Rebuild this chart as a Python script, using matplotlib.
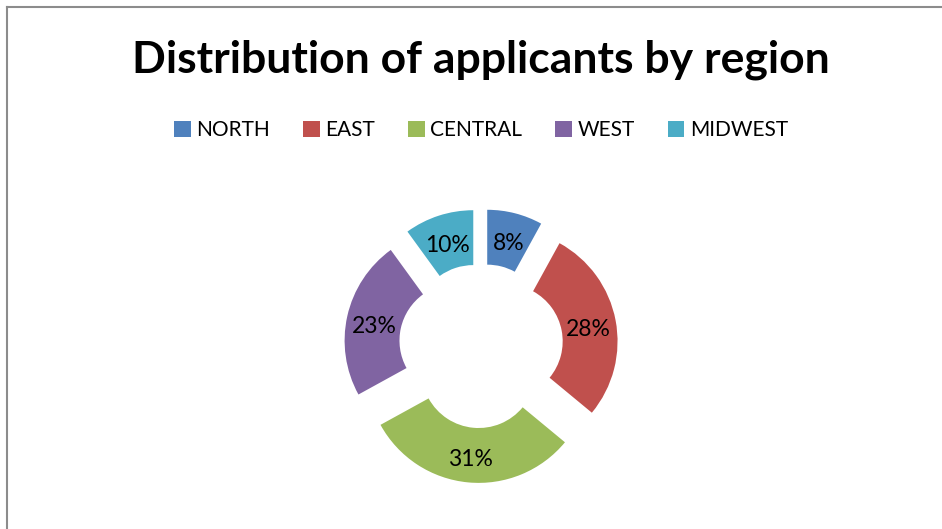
import matplotlib
matplotlib.use("Agg")
import matplotlib.pyplot as plt
from matplotlib.patches import Patch

categories = ["NORTH", "EAST", "CENTRAL", "WEST", "MIDWEST"]
values = [8, 28, 31, 23, 10]
colors = ["#4f81bd", "#c0504d", "#9bbb59", "#8064a2", "#4bacc6"]
title = "Distribution of applicants by region"

plt.rcParams['font.family'] = ['Lato', 'DejaVu Sans']

W, H = 942, 529
fig = plt.figure(figsize=(W / 100, H / 100), dpi=100)
fig.patch.set_facecolor("white")

# border lines (top and left)
fig.add_artist(plt.Line2D([7 / W, 1.0], [1 - 7 / H, 1 - 7 / H], color="#8c8c8c", lw=1.5, transform=fig.transFigure))
fig.add_artist(plt.Line2D([7 / W, 7 / W], [1 - 7 / H, 0.0], color="#8c8c8c", lw=1.5, transform=fig.transFigure))

ax = fig.add_axes([0, 0, 1, 1])

R = 112
explode = [25] * len(values)  # matplotlib applies explode in data units
wedges, texts = ax.pie(values, colors=colors, startangle=90, counterclock=False,
                       radius=R, center=(481, H - 346), explode=explode,
                       wedgeprops=dict(width=0.49 * R, edgecolor="none"),
                       labels=[f"{v}%" for v in values], labeldistance=0.755,
                       textprops=dict(fontsize=16.5, color="black"))
for t in texts:
    t.set_ha("center")
    t.set_va("center")
    x, y = t.get_position()
    t.set_position((x, y - 4))

ax.set_xlim(0, W)
ax.set_ylim(0, H)
ax.set_aspect("equal")
ax.axis("off")

fig.text(481 / W, 1 - 60 / H, title, ha="center", va="center", fontsize=32, fontweight="bold")

handles = [Patch(facecolor=c, edgecolor="none") for c in colors]
fig.legend(handles, categories, loc="center", bbox_to_anchor=(481 / W, 1 - 130 / H), ncol=5,
           frameon=False, fontsize=15, handlelength=0.8, handleheight=0.8, handletextpad=0.25,
           columnspacing=1.6)

fig.savefig("out.png", dpi=100, facecolor="white")
